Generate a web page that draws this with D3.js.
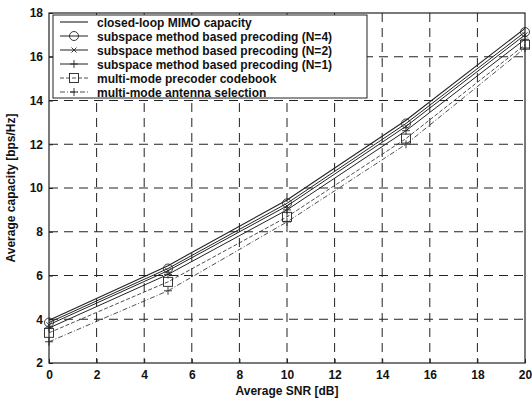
<!DOCTYPE html>
<html><head><meta charset="utf-8">
<script src="https://cdn.jsdelivr.net/npm/d3@7/dist/d3.min.js"></script>
<style>body{margin:0;background:#fff}svg text{font-family:"Liberation Sans",Arial,sans-serif;fill:#111}</style>
</head><body><svg id="c" width="532" height="401"></svg>
<script>
const snr = [0, 5, 10, 15, 20];
const closedLoop = [3.95, 6.45, 9.45, 13.1, 17.3];
const subN4 = [3.85, 6.32, 9.3, 12.95, 17.13];
const subN2 = [3.75, 6.22, 9.18, 12.82, 17.0];
const subN1 = [3.6, 6.05, 9.0, 12.62, 16.8];
const codebook = [3.38, 5.71, 8.68, 12.26, 16.55];
const antSel = [2.97, 5.3, 8.45, 12.0, 16.4];
const xTicks = [0, 2, 4, 6, 8, 10, 12, 14, 16, 18, 20];
const yTicks = [2, 4, 6, 8, 10, 12, 14, 16, 18];
const labels = ["closed-loop MIMO capacity", "subspace method based precoding (N=4)",
  "subspace method based precoding (N=2)", "subspace method based precoding (N=1)",
  "multi-mode precoder codebook", "multi-mode antenna selection"];

const series = [
  {v: closedLoop, dash: null, w: 1.1, m: "none"},
  {v: subN4, dash: null, w: 1.0, m: "circle"},
  {v: subN2, dash: null, w: 1.0, m: "x"},
  {v: subN1, dash: null, w: 1.0, m: "plus"},
  {v: codebook, dash: "4,2", w: 0.8, m: "square"},
  {v: antSel, dash: "5,2,1,2", w: 0.8, m: "plus"}
];

const svg = d3.select("#c");
const L = 49, R = 525, T = 13, B = 363;
const x = d3.scaleLinear().domain([0, 20]).range([L, R]);
const y = d3.scaleLinear().domain([2, 18]).range([B, T]);

// grid
const g = svg.append("g");
g.selectAll(".gx").data(xTicks.slice(1, -1)).enter().append("line")
  .attr("x1", d => x(d)).attr("x2", d => x(d)).attr("y1", T).attr("y2", B)
  .attr("stroke", "#222").attr("stroke-width", 1).attr("stroke-dasharray", "9,6");
g.selectAll(".gy").data(yTicks.slice(1, -1)).enter().append("line")
  .attr("y1", d => y(d)).attr("y2", d => y(d)).attr("x1", L).attr("x2", R)
  .attr("stroke", "#222").attr("stroke-width", 1).attr("stroke-dasharray", "9,6");

// axes
const ax = svg.append("g").attr("transform", `translate(0,${B})`)
  .call(d3.axisBottom(x).tickValues(xTicks).tickSize(-4).tickPadding(7).tickFormat(d3.format("d")));
const ay = svg.append("g").attr("transform", `translate(${L},0)`)
  .call(d3.axisLeft(y).tickValues(yTicks).tickSize(-4).tickPadding(6).tickFormat(d3.format("d")));
[ax, ay].forEach(a => {
  a.select(".domain").remove();
  a.selectAll("text").attr("font-size", 12).attr("font-weight", "bold").attr("fill", "#111")
    .attr("font-family", "Liberation Sans, Arial, sans-serif");
  a.selectAll("line").attr("stroke", "#222");
});
svg.append("rect").attr("x", L).attr("y", T).attr("width", R - L).attr("height", B - T)
  .attr("fill", "none").attr("stroke", "#222").attr("stroke-width", 1.2);

// lines
const line = d3.line().x((d, i) => x(snr[i])).y(d => y(d));
function marker(sel, type, cx, cy) {
  if (type === "circle") sel.append("circle").attr("cx", cx).attr("cy", cy).attr("r", 4.5)
    .attr("fill", "none").attr("stroke", "#222").attr("stroke-width", 0.9);
  else if (type === "square") sel.append("rect").attr("x", cx - 4.5).attr("y", cy - 4.5)
    .attr("width", 9).attr("height", 9).attr("fill", "none").attr("stroke", "#222").attr("stroke-width", 0.9);
  else if (type === "x") sel.append("path").attr("d", `M${cx-2.5},${cy-2.5}L${cx+2.5},${cy+2.5}M${cx-2.5},${cy+2.5}L${cx+2.5},${cy-2.5}`)
    .attr("stroke", "#222").attr("stroke-width", 0.9);
  else if (type === "plus") sel.append("path").attr("d", `M${cx-4},${cy}L${cx+4},${cy}M${cx},${cy-4}L${cx},${cy+4}`)
    .attr("stroke", "#222").attr("stroke-width", 0.9);
}
series.forEach(s => {
  svg.append("path").attr("d", line(s.v)).attr("fill", "none").attr("stroke", "#222")
    .attr("stroke-width", s.w).attr("stroke-dasharray", s.dash);
  const mg = svg.append("g");
  s.v.forEach((d, i) => marker(mg, s.m, x(snr[i]), y(d)));
});

// legend
const lg = svg.append("g");
lg.append("rect").attr("x", 53).attr("y", 15).attr("width", 314).attr("height", 83)
  .attr("fill", "#fff").attr("stroke", "#222").attr("stroke-width", 1);
series.forEach((s, i) => {
  const ly = 22 + i * 14;
  lg.append("line").attr("x1", 60).attr("x2", 88).attr("y1", ly).attr("y2", ly)
    .attr("stroke", "#222").attr("stroke-width", s.w).attr("stroke-dasharray", s.dash);
  marker(lg, s.m, 74, ly);
  lg.append("text").attr("x", 97).attr("y", ly + 4.5).attr("font-size", 12).attr("font-weight", "bold")
    .text(labels[i]);
});

// axis titles
svg.append("text").attr("x", (L + R) / 2).attr("y", 395).attr("text-anchor", "middle")
  .attr("font-size", 12).attr("font-weight", "bold").text("Average SNR [dB]");
svg.append("text").attr("transform", `translate(15,${(T + B) / 2}) rotate(-90)`).attr("text-anchor", "middle")
  .attr("font-size", 12).attr("font-weight", "bold").text("Average capacity [bps/Hz]");
</script></body></html>
